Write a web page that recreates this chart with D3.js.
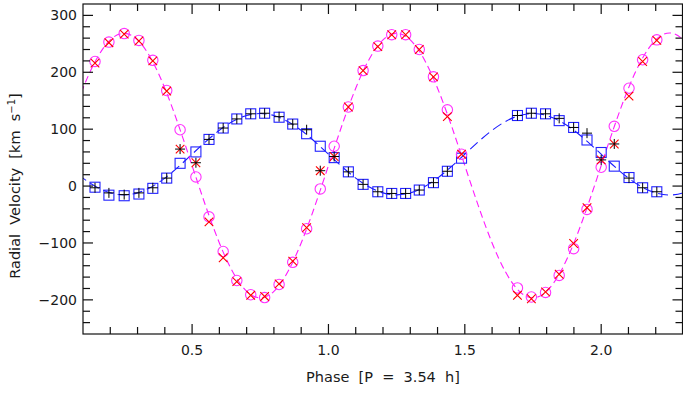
<!DOCTYPE html>
<html>
<head>
<meta charset="utf-8">
<script src="https://cdn.jsdelivr.net/npm/d3@7"></script>
<style>
  html, body { margin: 0; padding: 0; background: #fff; }
  svg { display: block; }
  text { font-family: "DejaVu Sans", "Liberation Sans", sans-serif; fill: #1a1a1a; }
</style>
</head>
<body>
<svg id="chart" width="683" height="394"></svg>
<script>
// ---- data ----
const phases = [0.144,0.195,0.251,0.305,0.356,0.407,0.456,0.514,0.562,0.614,0.664,0.715,0.766,0.819,0.869,0.920,0.970,1.021,1.073,1.127,1.181,1.232,1.283,1.333,1.385,1.436,1.488,
                1.693,1.744,1.796,1.846,1.899,1.948,2.000,2.048,2.102,2.152,2.204];
const primCircle = [219,253,268,256,221,168,99,16,-54,-115,-166,-191,-196,-173,-134,-75,-5,70,139,203,246,266,266,240,192,134,56,
                    -179,-195,-187,-157,-110,-41,33,105,172,222,257];
const primCross  = [216,252,267,255,220,167,65,41,-63,-126,-168,-192,-194,-172,-132,-73,27,52,139,203,245,266,266,240,192,122,56,
                    -192,-198,-186,-155,-101,-38,46,74,158,219,256];
const secSquare  = [-2,-16,-17,-14,-4,14,40,60,82,102,118,127,128,121,109,92,70,50,25,3,-10,-13,-13,-7,6,26,49,
                    124,128,127,115,103,81,59,35,15,-3,-10];
const secPlus    = [-3,-12,-15,-12,-3,14,65,41,82,102,118,127,128,122,109,99,27,52,25,3,-10,-13,-13,-7,6,26,null,
                    124,128,127,119,103,93,46,74,14,-3,-10];
// model curves
const modelPhase = [0.0,0.1,0.2,0.3,0.4,0.5,0.6,0.7,0.8,0.9,1.0,1.1,1.2,1.3,1.4,1.5,1.6,1.7,1.8,1.9,2.0,2.1,2.2,2.3,2.4];
const primModel  = [36,172,257,257,172,36,-100,-185,-185,-100,36,172,257,257,172,36,-100,-185,-185,-100,36,172,257,257,172];
const secModel   = [56,14,-12,-12,14,56,98,124,124,98,56,14,-12,-12,14,56,98,124,124,98,56,14,-12,-12,14];
const xTickLabels = ["0.5","1.0","1.5","2.0"];
const yTickLabels = ["-200","-100","0","100","200","300"];

// ---- layout ----
const svg = d3.select("#chart");
const L = 83, R = 683, T = 4, B = 334;
const x = d3.scaleLinear().domain([0.1, 2.3]).range([L, R]);
const y = d3.scaleLinear().domain([-260, 320]).range([B, T]);

svg.append("defs").append("clipPath").attr("id","clip")
  .append("rect").attr("x", L).attr("y", T).attr("width", R - L).attr("height", B - T);

const plot = svg.append("g").attr("clip-path","url(#clip)");

const line = d3.line().x(d => x(d[0])).y(d => y(d[1])).curve(d3.curveNatural);
plot.append("path")
  .attr("d", line(modelPhase.map((p,i) => [p, secModel[i]])))
  .attr("fill","none").attr("stroke","#1a1aff").attr("stroke-width",1.1)
  .attr("stroke-dasharray","10,5");
plot.append("path")
  .attr("d", line(modelPhase.map((p,i) => [p, primModel[i]])))
  .attr("fill","none").attr("stroke","#ff1aff").attr("stroke-width",1.1)
  .attr("stroke-dasharray","7,4");

const pts = (arr) => phases.map((p,i) => [p, arr[i]]).filter(d => d[1] !== null);

// blue squares
plot.selectAll(".sq").data(pts(secSquare)).enter().append("rect")
  .attr("x", d => x(d[0]) - 5).attr("y", d => y(d[1]) - 5)
  .attr("width", 10).attr("height", 10)
  .attr("fill","none").attr("stroke","#2222ff").attr("stroke-width",1.1);
// magenta circles
plot.selectAll(".ci").data(pts(primCircle)).enter().append("circle")
  .attr("cx", d => x(d[0])).attr("cy", d => y(d[1])).attr("r", 5.2)
  .attr("fill","none").attr("stroke","#ff33ff").attr("stroke-width",1.1);
// red crosses
const xs = 4.3;
plot.selectAll(".cr").data(pts(primCross)).enter().append("path")
  .attr("d", d => {
    const cx = x(d[0]), cy = y(d[1]);
    return `M${cx-xs},${cy-xs}L${cx+xs},${cy+xs}M${cx-xs},${cy+xs}L${cx+xs},${cy-xs}`;
  })
  .attr("fill","none").attr("stroke","#ff0000").attr("stroke-width",1.1);
// black plus
const ps = 5;
plot.selectAll(".pl").data(pts(secPlus)).enter().append("path")
  .attr("d", d => {
    const cx = x(d[0]), cy = y(d[1]);
    return `M${cx-ps},${cy}L${cx+ps},${cy}M${cx},${cy-ps}L${cx},${cy+ps}`;
  })
  .attr("fill","none").attr("stroke","#000").attr("stroke-width",1);

// ---- axes ----
const axisColor = "#111";
const g = svg.append("g");
g.append("rect").attr("x", L).attr("y", T).attr("width", R - L - 0.5).attr("height", B - T)
  .attr("fill","none").attr("stroke", axisColor).attr("stroke-width",1.2);

const xMinor = d3.range(2, 24).map(i => i / 10);
const xMajor = [0.5, 1.0, 1.5, 2.0];
xMinor.forEach(v => {
  const isMaj = xMajor.some(m => Math.abs(m - v) < 1e-6);
  const len = isMaj ? 10 : 7;
  g.append("line").attr("x1", x(v)).attr("x2", x(v)).attr("y1", B).attr("y2", B - len)
    .attr("stroke", axisColor).attr("stroke-width",1.2);
  g.append("line").attr("x1", x(v)).attr("x2", x(v)).attr("y1", T).attr("y2", T + len)
    .attr("stroke", axisColor).attr("stroke-width",1.2);
});
xMajor.forEach((v,i) => {
  g.append("text").attr("x", x(v)).attr("y", 355).attr("text-anchor","middle")
    .attr("font-size", 14).text(xTickLabels[i]);
});

const yMinor = d3.range(-240, 320, 20);
const yMajor = [-200, -100, 0, 100, 200, 300];
yMinor.forEach(v => {
  const isMaj = yMajor.includes(v);
  const len = isMaj ? 10 : 7;
  g.append("line").attr("x1", L).attr("x2", L + len).attr("y1", y(v)).attr("y2", y(v))
    .attr("stroke", axisColor).attr("stroke-width",1.2);
  g.append("line").attr("x1", R - 0.5).attr("x2", R - 0.5 - len).attr("y1", y(v)).attr("y2", y(v))
    .attr("stroke", axisColor).attr("stroke-width",1.2);
});
yMajor.forEach((v,i) => {
  g.append("text").attr("x", 77).attr("y", y(v) + 5).attr("text-anchor","end")
    .attr("font-size", 14).text(yTickLabels[i].replace("-", "\u2212"));
});

// titles
g.append("text").attr("x", (L + R) / 2).attr("y", 382).attr("text-anchor","middle")
  .attr("font-size", 14.5).attr("xml:space","preserve").style("white-space","pre")
  .text("Phase  [P  =  3.54  h]");

const yt = g.append("text").attr("transform","translate(20,186) rotate(-90)")
  .attr("text-anchor","middle").attr("font-size", 14.5).style("white-space","pre");
yt.append("tspan").text("Radial  Velocity  [km  s");
yt.append("tspan").attr("dy", -5).attr("font-size", 10).text("\u22121");
yt.append("tspan").attr("dy", 5).text("]");
</script>
</body>
</html>
